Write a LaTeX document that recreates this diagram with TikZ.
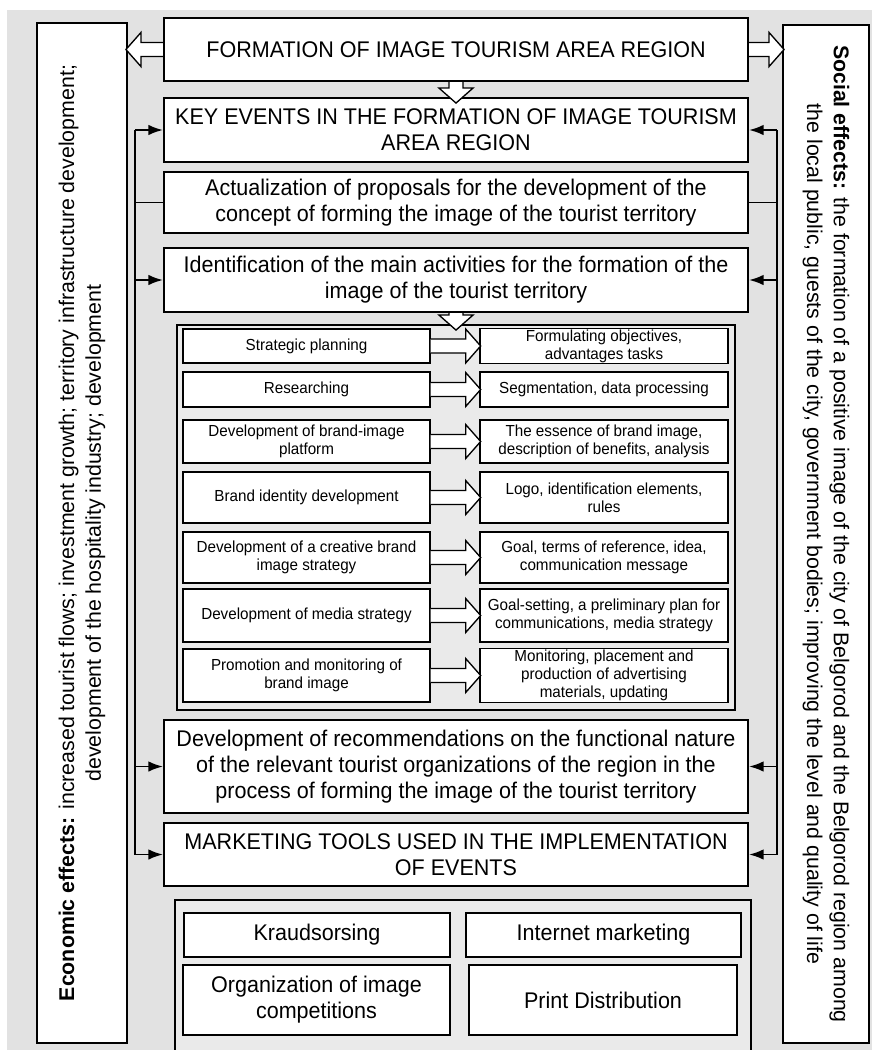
\documentclass[tikz,border=0pt]{standalone}
\usepackage{fontspec}
\setmainfont{Liberation Sans}
\newfontfamily\narrowfont[FakeStretch=0.95]{Liberation Sans}
\usetikzlibrary{arrows.meta,calc}
\definecolor{bggray}{RGB}{226,226,226}
\definecolor{groupgray}{RGB}{234,234,234}

\begin{document}
\begin{tikzpicture}[x=0.75pt, y=-0.75pt,
  mainbox/.style={draw, line width=1.6pt, fill=white, align=center, inner sep=2pt,
                  minimum width=438pt, font=\narrowfont\fontsize{17}{19.5}\selectfont},
  sidebox/.style={draw, line width=1.5pt, fill=white, align=center, inner sep=0pt,
                  font=\fontsize{16}{20}\selectfont},
  group/.style={draw, line width=1pt, fill=groupgray, inner sep=0pt},
  actbox/.style={draw, line width=1pt, fill=white, align=center, inner sep=1pt,
                 font=\narrowfont\fontsize{12}{13.5}\selectfont},
  toolbox/.style={draw, line width=1pt, fill=white, align=center, inner sep=1pt,
                  font=\narrowfont\fontsize{17}{19.5}\selectfont},
  hollow/.style={draw, line width=1pt, fill=white, line join=miter},
  link/.style={draw, line width=1.4pt},
  feed/.style={link, -{Latex[length=11pt,width=8pt]}},
  pics/harrow/.style={code={
    \path[hollow] (0,-7) -- ({#1-15},-7) -- ({#1-15},-17) -- (#1,0)
      -- ({#1-15},17) -- ({#1-15},7) -- (0,7);}}
]
\useasboundingbox (0,0) rectangle (872,1050);
\fill[bggray] (7,10) rectangle (872,1050);

% side effects
\node[sidebox, rotate=90, minimum width=765pt, minimum height=67.5pt] (econ) at (82,533)
  {\textbf{Economic effects:} increased tourist flows; investment growth; territory infrastructure development;\\
   development of the hospitality industry; development};
\node[sidebox, rotate=-90, minimum width=763.5pt, minimum height=64.5pt] (social) at (826,534)
  {\textbf{Social effects:} the formation of a positive image of the city of Belgorod and the Belgorod region among\\
   the local public, guests of the city, government bodies; improving the level and quality of life};

% main column
\node[mainbox, minimum height=47.25pt] (formation) at (456,49.5) {FORMATION OF IMAGE TOURISM AREA REGION};
\node[mainbox, minimum height=48pt] (keyev) at (456,130) {KEY EVENTS IN THE FORMATION OF IMAGE TOURISM\\AREA REGION};
\node[mainbox, minimum height=45.75pt] (actual) at (456,202.5)
  {Actualization of proposals for the development of the\\concept of forming the image of the tourist territory};
\node[mainbox, minimum height=48pt] (ident) at (456,280)
  {Identification of the main activities for the formation of the\\image of the tourist territory};
\node[mainbox, minimum height=69.75pt] (recom) at (456,766.5)
  {Development of recommendations on the functional nature\\of the relevant tourist organizations of the region in the\\process of forming the image of the tourist territory};
\node[mainbox, minimum height=47.25pt] (tools) at (456,854.5) {MARKETING TOOLS USED IN THE IMPLEMENTATION\\OF EVENTS};

% activities
\node[group, minimum width=418.5pt, minimum height=288.75pt] (actgroup) at (456,517.5) {};
\node[actbox, minimum width=185.25pt, minimum height=25.5pt] (a1) at (306.5,346) {Strategic planning};
\node[actbox, minimum width=186pt, minimum height=25.5pt] (b1) at (604,346) {Formulating objectives,\\advantages tasks};
\node[actbox, minimum width=185.25pt, minimum height=26.25pt] (a2) at (306.5,389.5) {Researching};
\node[actbox, minimum width=186pt, minimum height=26.25pt] (b2) at (604,389.5) {Segmentation, data processing};
\node[actbox, minimum width=185.25pt, minimum height=32.25pt] (a3) at (306.5,441.5) {Development of brand-image\\platform};
\node[actbox, minimum width=186pt, minimum height=32.25pt] (b3) at (604,441.5) {The essence of brand image,\\description of benefits, analysis};
\node[actbox, minimum width=185.25pt, minimum height=38.25pt] (a4) at (306.5,497.5) {Brand identity development};
\node[actbox, minimum width=186pt, minimum height=38.25pt] (b4) at (604,497.5) {Logo, identification elements,\\rules};
\node[actbox, minimum width=185.25pt, minimum height=38.25pt] (a5) at (306.5,557.5) {Development of a creative brand\\image strategy};
\node[actbox, minimum width=186pt, minimum height=38.25pt] (b5) at (604,557.5) {Goal, terms of reference, idea,\\communication message};
\node[actbox, minimum width=185.25pt, minimum height=39.75pt] (a6) at (306.5,615.5) {Development of media strategy};
\node[actbox, minimum width=186pt, minimum height=39.75pt] (b6) at (604,615.5) {Goal-setting, a preliminary plan for\\communications, media strategy};
\node[actbox, minimum width=185.25pt, minimum height=39.75pt] (a7) at (306.5,675.5) {Promotion and monitoring of\\brand image};
\node[actbox, minimum width=186pt, minimum height=39.75pt] (b7) at (604,675.5) {Monitoring, placement and\\production of advertising\\materials, updating};
\foreach \i in {1,...,7}
  \pic at (a\i.east) {harrow=50};

% marketing tools
\path[group] (175,1050) -- (175,900) -- (751,900) -- (751,1050);
\node[toolbox, minimum width=199.5pt, minimum height=33pt] (crowd) at (317,935) {Kraudsorsing};
\node[toolbox, minimum width=206.25pt, minimum height=33pt] (inet) at (603.5,935) {Internet marketing};
\node[toolbox, minimum width=200.25pt, minimum height=52.5pt] (contest) at (316.5,1000) {Organization of image\\competitions};
\node[toolbox, minimum width=201pt, minimum height=52.5pt] (print) at (603,1000) {Print Distribution};

% hollow arrows
\pic[rotate=180] at (formation.west) {harrow=37};
\pic at (formation.east) {harrow=35};
\pic[rotate=-90] at (formation.south) {harrow=21};
\pic[rotate=-90] at (ident.south) {harrow=17};

% feedback lines
\coordinate (lbus) at (135,0);
\coordinate (rbus) at (777,0);
\draw[link] (keyev.west -| lbus) -- (tools.west -| lbus);
\draw[link] (keyev.east -| rbus) -- (tools.east -| rbus);
\draw[link] (actual.west) -- (actual.west -| lbus);
\draw[link] (actual.east) -- (actual.east -| rbus);
\foreach \n in {keyev,ident,recom,tools} {
  \draw[feed] (\n.west -| lbus) -- (\n.west);
  \draw[feed] (\n.east -| rbus) -- (\n.east);
}
\end{tikzpicture}
\end{document}
